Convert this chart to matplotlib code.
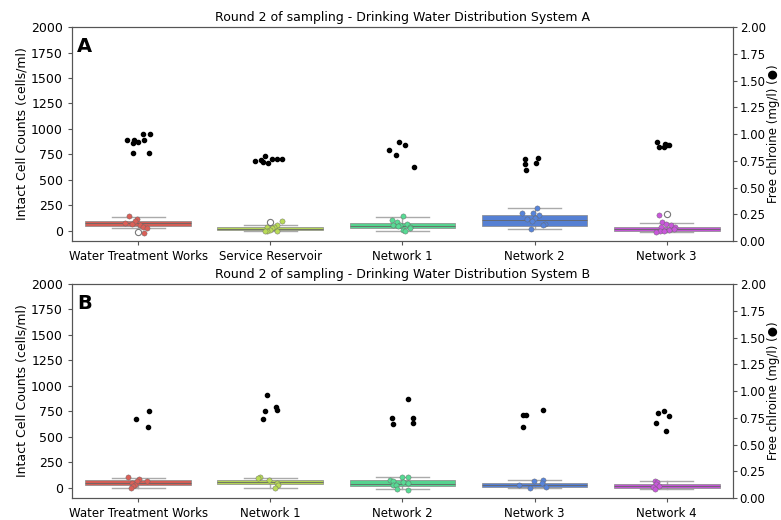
import colorsys
import numpy as np
import matplotlib
matplotlib.use("Agg")
import matplotlib.pyplot as plt

# ---- panel A -------------------------------------------------------------
cats_a = ["Water Treatment Works", "Service Reservoir", "Network 1", "Network 2", "Network 3"]
# coloured box: q1, median, q3 (cells/ml)
box_a = [(52, 75, 98), (5, 20, 35), (25, 50, 78), (50, 105, 157), (0, 18, 42)]
# grey whisker ends (cells/ml)
whis_a = [(26, 140), (0, 60), (-5, 140), (17, 222), (-10, 72)]
flier_a = [[-15], [91], [], [], [164]]
icc_a = [
    [145, 118, 95, 70, 78, 58, 42, 28, -20],
    [98, 59, 42, 33, 23, 10, 3, 0, 0],
    [145, 105, 90, 69, 59, 55, 49, 40, 26, 10, -5],
    [222, 173, 173, 157, 124, 115, 100, 69, 55, 17],
    [160, 85, 65, 62, 42, 40, 17, 10, 3, -5, -7],
]
icc_jit_a = [
    [-9, -1, -3, -6, -13, 2, 5, 9, 6],
    [12, 7, 4, -3, 2, 0, -3, -5, 7],
    [1, -10, -5, 5, -9, -2, -4, 8, 8, 1, 3],
    [2, -13, -2, 4, 0, -8, -3, 10, 8, -4],
    [-8, -5, -1, 4, 8, -6, 7, 2, -7, -3, -11],
]
chl_a = [
    [1.00, 1.00, 0.94, 0.94, 0.93, 0.92, 0.94, 0.82, 0.82],
    [0.75, 0.76, 0.79, 0.74, 0.73, 0.77, 0.77, 0.77],
    [0.85, 0.80, 0.93, 0.90, 0.69],
    [0.77, 0.72, 0.66, 0.73, 0.78],
    [0.93, 0.88, 0.88, 0.91, 0.90, 0.90],
]
chl_jit_a = [
    [5, 12, -11, -4, 0, -5, 6, -5, 11],
    [-15, -9, -5, -7, -2, 2, 7, 12],
    [-13, -6, -3, 3, 12],
    [-10, -10, -9, 1, 3],
    [-10, -8, -3, -2, 2, 0],
]

# ---- panel B -------------------------------------------------------------
cats_b = ["Water Treatment Works", "Network 1", "Network 2", "Network 3", "Network 4"]
box_b = [(23, 49, 78), (36, 56, 78), (15, 40, 78), (7, 23, 46), (-3, 16, 36)]
whis_b = [(-3, 101), (-3, 101), (-10, 111), (-3, 78), (-13, 62)]
flier_b = [[], [], [], [], []]
icc_b = [
    [105, 88, 69, 62, 46, 29, 13, -3],
    [105, 95, 75, 46, 29, 3],
    [105, 105, 78, 62, 56, 46, 29, 23, -10, -20],
    [78, 62, 46, 29, 7, -3],
    [69, 55, 36, 20, 7, -10],
]
icc_jit_b = [
    [-10, 1, -1, 9, -6, -3, -5, -7],
    [-10, -12, -1, 7, 8, 5],
    [0, 6, -12, -9, 1, 6, -9, -6, -5, 6],
    [8, -1, 7, -15, 11, -5],
    [-12, -10, -11, -8, -14, -12],
]
chl_b = [
    [0.74, 0.81, 0.66],
    [0.96, 0.81, 0.74, 0.85, 0.82],
    [0.75, 0.69, 0.93, 0.75, 0.70],
    [0.78, 0.78, 0.66, 0.82],
    [0.70, 0.79, 0.81, 0.77, 0.63],
]
chl_jit_b = [
    [-2, 11, 10],
    [-3, -5, -7, 6, 7],
    [-10, -9, 6, 11, 11],
    [-12, -9, -12, 8],
    [-11, -9, -3, 2, -1],
]


def hls_colors(n, h=0.01, l=0.6, s=0.65):
    hues = (np.linspace(0, 1, n + 1)[:-1] + h) % 1
    return [colorsys.hls_to_rgb(hh, l, s) for hh in hues]


def desat(c, prop=0.9):
    h, l, s = colorsys.rgb_to_hls(*c)
    return colorsys.hls_to_rgb(h, l * 0.97, s * prop)


colors = hls_colors(5)
PX = 1 / 132.0  # pixel jitter -> category units


def draw_panel(ax, cats, box, whis, fliers, icc, icc_jit, chl, chl_jit, letter, system):
    pos = np.arange(len(cats))
    grey_stats = []
    col_stats = []
    for (q1, med, q3), (lo, hi), fl in zip(box, whis, fliers):
        grey_stats.append(dict(med=med, q1=q1, q3=q3, whislo=lo, whishi=hi, fliers=fl))
        col_stats.append(dict(med=med, q1=q1, q3=q3, whislo=q1, whishi=q3, fliers=[]))

    ax.bxp(grey_stats, positions=pos, widths=0.4, capwidths=0.4, showbox=False,
           showfliers=False, patch_artist=True,
           whiskerprops=dict(color="#aaaaaa", lw=1.0, zorder=1),
           capprops=dict(color="#aaaaaa", lw=1.0, zorder=1),
           medianprops=dict(lw=0))
    bp = ax.bxp(col_stats, positions=pos, widths=0.8, showcaps=False,
                showfliers=False, patch_artist=True,
                boxprops=dict(edgecolor="#888888", lw=0.5, zorder=2),
                whiskerprops=dict(lw=0),
                medianprops=dict(color="#666666", lw=0.6, zorder=2.1))
    for patch, c in zip(bp["boxes"], colors):
        patch.set_facecolor(desat(c))

    for i, (vals, jit) in enumerate(zip(icc, icc_jit)):
        xs = i + np.array(jit) * PX
        ax.scatter(xs, vals, s=14, color=colors[i], edgecolor="#666666",
                   linewidth=0.3, zorder=3)
    for i, fl in enumerate(fliers):
        if fl:
            ax.scatter([i] * len(fl), fl, s=20, facecolor="white",
                       edgecolor="#777777", linewidth=0.8, zorder=3.5)

    ax.set_xlim(-0.5, len(cats) - 0.5)
    ax.set_ylim(-100, 2000)
    ax.set_yticks(np.arange(0, 2001, 250))
    ax.set_xticks(pos)
    ax.set_xticklabels(cats)
    ax.set_ylabel("Intact Cell Counts (cells/ml)", fontsize=9, labelpad=2)
    ax.tick_params(axis="y", labelsize=9, color="#555555", length=3)
    ax.tick_params(axis="x", labelsize=8.5, color="#555555", length=3)
    ax.set_title("Round 2 of sampling - Drinking Water Distribution System " + system,
                 fontsize=9, pad=4)
    ax.text(0.008, 0.955, letter, transform=ax.transAxes, fontsize=14,
            fontweight="bold", va="top", ha="left")

    ax2 = ax.twinx()
    for i, (vals, jit) in enumerate(zip(chl, chl_jit)):
        xs = i + np.array(jit) * PX
        ax2.scatter(xs, vals, s=9, color="black", zorder=4)
    ax2.set_ylim(0, 2)
    ax2.set_yticks(np.arange(0, 2.01, 0.25))
    ax2.set_yticklabels([f"{v:.2f}" for v in np.arange(0, 2.01, 0.25)])
    ax2.set_ylabel("Free chlroine (mg/l) (\u25CF)", fontsize=8.5, labelpad=1)
    ax2.tick_params(labelsize=8.5, color="#555555", length=3, pad=2)
    for a in (ax, ax2):
        for sp in a.spines.values():
            sp.set_color("#555555")
    return ax2


fig = plt.figure(figsize=(7.81, 5.20), dpi=100)
ax_a = fig.add_axes([0.0922, 0.5365, 0.846, 0.4115])
ax_b = fig.add_axes([0.0922, 0.0423, 0.846, 0.4115])
draw_panel(ax_a, cats_a, box_a, whis_a, flier_a, icc_a, icc_jit_a, chl_a, chl_jit_a, "A", "A")
draw_panel(ax_b, cats_b, box_b, whis_b, flier_b, icc_b, icc_jit_b, chl_b, chl_jit_b, "B", "B")

fig.savefig("out.png", dpi=100)
